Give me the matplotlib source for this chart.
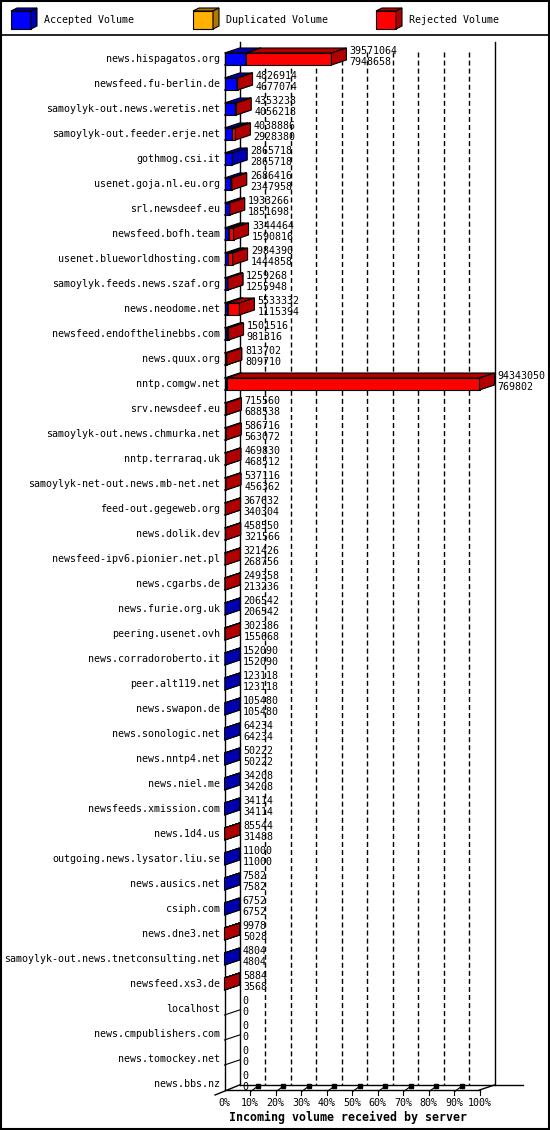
import matplotlib
matplotlib.use("Agg")
import matplotlib.pyplot as plt
from matplotlib.patches import Polygon, Rectangle

plt.rcParams['font.family'] = ['DejaVu Sans Mono']
plt.rcParams['lines.scale_dashes'] = False

# servers, top to bottom
servers = [
    "news.hispagatos.org", "newsfeed.fu-berlin.de", "samoylyk-out.news.weretis.net",
    "samoylyk-out.feeder.erje.net", "gothmog.csi.it", "usenet.goja.nl.eu.org",
    "srl.newsdeef.eu", "newsfeed.bofh.team", "usenet.blueworldhosting.com",
    "samoylyk.feeds.news.szaf.org", "news.neodome.net", "newsfeed.endofthelinebbs.com",
    "news.quux.org", "nntp.comgw.net", "srv.newsdeef.eu", "samoylyk-out.news.chmurka.net",
    "nntp.terraraq.uk", "samoylyk-net-out.news.mb-net.net", "feed-out.gegeweb.org",
    "news.dolik.dev", "newsfeed-ipv6.pionier.net.pl", "news.cgarbs.de", "news.furie.org.uk",
    "peering.usenet.ovh", "news.corradoroberto.it", "peer.alt119.net", "news.swapon.de",
    "news.sonologic.net", "news.nntp4.net", "news.niel.me", "newsfeeds.xmission.com",
    "news.1d4.us", "outgoing.news.lysator.liu.se", "news.ausics.net", "csiph.com",
    "news.dne3.net", "samoylyk-out.news.tnetconsulting.net", "newsfeed.xs3.de",
    "localhost", "news.cmpublishers.com", "news.tomockey.net", "news.bbs.nz",
]
total_volume = [
    39571064, 4826914, 4353238, 4038886, 2865718, 2686416, 1933266, 3344464, 2984390,
    1259268, 5533332, 1501516, 813702, 94343050, 715560, 586716, 469830, 537116, 367632,
    458550, 321426, 249358, 206542, 302386, 152090, 123118, 105480, 64234, 50222, 34208,
    34114, 85544, 11000, 7582, 6752, 9978, 4804, 5884, 0, 0, 0, 0,
]
accepted_volume = [
    7948658, 4677074, 4056218, 2928380, 2865718, 2347958, 1851698, 1590816, 1444858,
    1255948, 1115394, 981316, 809710, 769802, 688538, 563072, 468512, 456362, 340304,
    321566, 268756, 213236, 206542, 155668, 152090, 123118, 105480, 64234, 50222, 34208,
    34114, 31488, 11000, 7582, 6752, 5028, 4804, 3568, 0, 0, 0, 0,
]
duplicated_volume = [0] * len(servers)
x_ticks = [0, 10, 20, 30, 40, 50, 60, 70, 80, 90, 100]

BLUE, DBLUE = "#0000ff", "#0000b0"
YEL, DYEL = "#ffb000", "#b07800"
RED, DRED = "#ff0000", "#b00000"

n = len(servers)
vmax = max(total_volume)
acc_pct = [a / vmax * 100 for a in accepted_volume]
dup_pct = [d / vmax * 100 for d in duplicated_volume]
rej_pct = [(t - a - d) / vmax * 100 for t, a, d in zip(total_volume, accepted_volume, duplicated_volume)]
tot_pct = [t / vmax * 100 for t in total_volume]

DX = 15 / 2.55      # depth in percent units
DY = -0.2           # depth in rows (upwards)
H = 0.24            # half height of bar front

fig = plt.figure(figsize=(5.5, 11.3), dpi=100)
ax = fig.add_axes([224.5 / 550, (1130 - 1109) / 1130, 255 / 550, 1075 / 1130])
ax.set_xlim(0, 100)
ax.set_ylim(n, -1)
ax.axis('off')

rows = list(range(n))
floor = n - 1 + H
top = -0.68

# back wall and floor
ax.plot([DX, DX], [top, floor + DY], color='black', lw=1, clip_on=False, zorder=1)
ax.plot([100 + DX, 100 + DX], [top, floor + DY], color='black', lw=1, clip_on=False, zorder=1)
for p in x_ticks[1:-1]:
    ax.plot([p + DX, p + DX], [top + 0.4, floor + DY], color='black', lw=1,
            linestyle=(0, (3.6, 2.2)), clip_on=False, zorder=1)
ax.plot([0, 0], [-H, floor], color='black', lw=1, clip_on=False, zorder=1)
ax.plot([0, 100], [floor, floor], color='black', lw=1, clip_on=False, zorder=1)
ax.plot([100, 100 + DX], [floor, floor + DY], color='black', lw=1, clip_on=False, zorder=1)
ax.plot([DX, 117], [floor + DY, floor + DY], color='black', lw=1, clip_on=False, zorder=1)
ax.plot([-3.7, DX], [floor + 0.2, floor + DY], color='black', lw=1, clip_on=False, zorder=1)
for r in rows[:-1]:
    ax.plot([0, DX], [r + H, r + H + DY], color='black', lw=0.8, clip_on=False, zorder=1)

# x ticks on the floor
for p in x_ticks:
    if p > 0:
        ax.plot([p, p], [floor, floor + 0.2], color='black', lw=0.8, clip_on=False)
    if 0 < p < 100:
        ax.plot([p + 0.4, p + 3.3], [floor + 0.05, floor - 0.17], color='black', lw=0.8,
                clip_on=False)
        ax.plot([p + 3.1], [floor - 0.15], marker='s', ms=2.2, color='black', clip_on=False)
    ax.text(p, floor + 0.52, f"{p}%", ha='center', va='center', fontsize=7.2, clip_on=False)

ax.text(48.5, floor + 1.08, "Incoming volume received by server", ha='center', va='center',
        fontsize=8.4, fontweight='bold', clip_on=False)


def box_faces(lefts, widths, front, dark, z):
    lw = [0.8 if w > 0 else 0 for w in widths]
    ax.barh(rows, widths, left=lefts, height=2 * H, color=front, edgecolor='black',
            linewidth=lw, zorder=z, clip_on=False)
    for r, x0, w in zip(rows, lefts, widths):
        if w <= 0:
            continue
        x1 = x0 + w
        topf = Polygon([(x0, r - H), (x1, r - H), (x1 + DX, r - H + DY), (x0 + DX, r - H + DY)],
                       closed=True, facecolor=dark, edgecolor='black', lw=0.8, zorder=z + 0.05,
                       clip_on=False)
        side = Polygon([(x1, r - H), (x1, r + H), (x1 + DX, r + H + DY), (x1 + DX, r - H + DY)],
                       closed=True, facecolor=dark, edgecolor='black', lw=0.8, zorder=z + 0.05,
                       clip_on=False)
        ax.add_patch(topf)
        ax.add_patch(side)


box_faces([0] * n, acc_pct, BLUE, DBLUE, 2)
box_faces(acc_pct, dup_pct, YEL, DYEL, 2.2)
box_faces([a + d for a, d in zip(acc_pct, dup_pct)], rej_pct, RED, DRED, 2.4)

# labels
for r, name, tp, t, a in zip(rows, servers, tot_pct, total_volume, accepted_volume):
    ax.text(-1.7, r, name, ha='right', va='center', fontsize=7.2, clip_on=False)
    ax.text(tp + DX + 1.3, r - 0.31, str(t), ha='left', va='center', fontsize=7.2,
            clip_on=False, zorder=3)
    ax.text(tp + DX + 1.3, r + 0.11, str(a), ha='left', va='center', fontsize=7.2,
            clip_on=False, zorder=3)

# legend strip and frame
lax = fig.add_axes([0, 0, 1, 1])
lax.set_xlim(0, 550)
lax.set_ylim(1130, 0)
lax.axis('off')
lax.patch.set_visible(False)
legend_items = [("Accepted Volume", BLUE, DBLUE, 11), ("Duplicated Volume", YEL, DYEL, 193),
                ("Rejected Volume", RED, DRED, 376)]
for label, c, dc, x in legend_items:
    lax.add_patch(Rectangle((x, 11), 20, 18, facecolor=c, edgecolor='black', lw=0.8))
    lax.add_patch(Polygon([(x, 11), (x + 20, 11), (x + 26, 8), (x + 6, 8)], closed=True,
                          facecolor=dc, edgecolor='black', lw=0.8))
    lax.add_patch(Polygon([(x + 20, 11), (x + 20, 29), (x + 26, 26), (x + 26, 8)], closed=True,
                          facecolor=dc, edgecolor='black', lw=0.8))
    lax.text(x + 33, 20, label, ha='left', va='center', fontsize=7.2)
lax.plot([0, 550], [35, 35], color='black', lw=1.2)
lax.add_patch(Rectangle((0.8, 0.8), 548.4, 1128.4, fill=False, edgecolor='black', lw=1.5))

fig.savefig("out.png", dpi=100)
